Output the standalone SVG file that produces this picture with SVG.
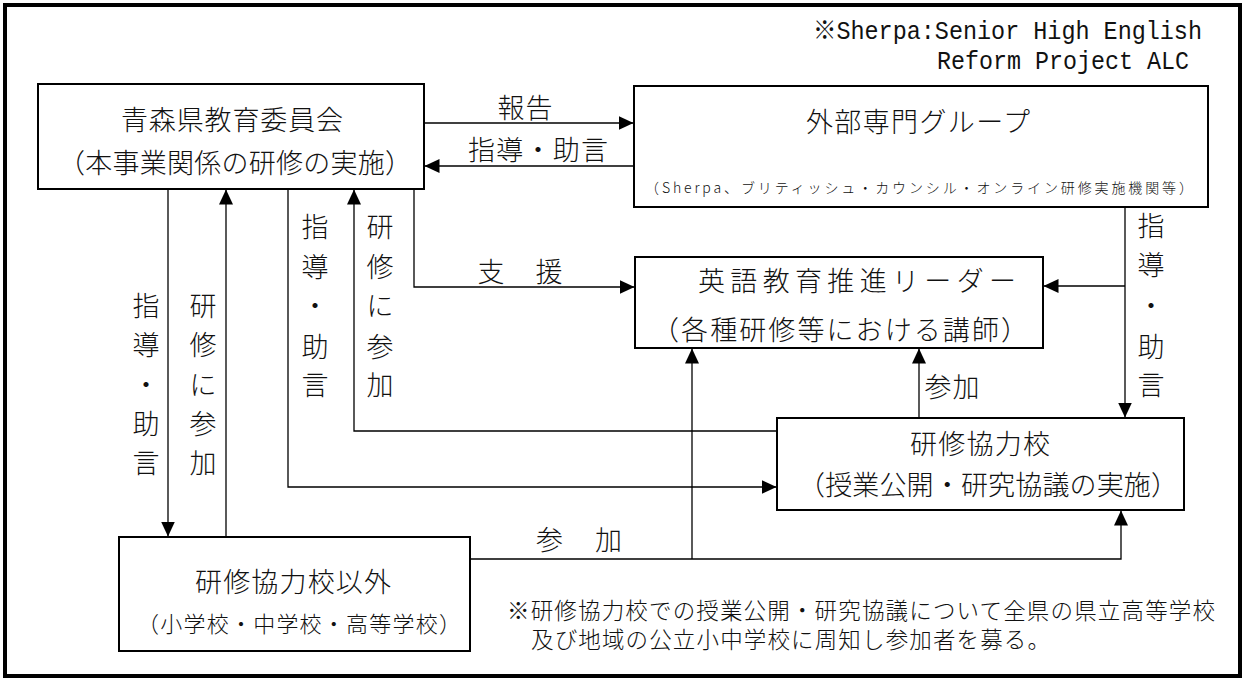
<svg xmlns="http://www.w3.org/2000/svg" width="1244" height="679" viewBox="0 0 1244 679">
<defs>
<marker id="ah" viewBox="0 0 15 14" refX="14.5" refY="7" markerWidth="15" markerHeight="14" orient="auto" markerUnits="userSpaceOnUse"><path d="M0,0 L15,7 L0,14 z" fill="#000"/></marker>
<style>
.frame{fill:#fff;stroke:#000;stroke-width:4}
.box{fill:#fff;stroke:#000;stroke-width:2}
.ln{fill:none;stroke:#000;stroke-width:1.3}
.arr{marker-end:url(#ah)}
text{font-family:"Noto Sans CJK JP",sans-serif;font-weight:300;fill:#111;dominant-baseline:central;text-anchor:middle}
.t{font-size:27px}
.s{font-size:22px}
.xs{font-size:14px}
.n{font-size:22.5px;text-anchor:start}
.m{font-family:"Liberation Mono","Noto Sans CJK JP",monospace;font-size:25px;text-anchor:start}
</style>
</defs>
<rect class="frame" x="5" y="5" width="1235" height="671"/>
<text class="m" x="813" y="32" textLength="389" lengthAdjust="spacingAndGlyphs">※Sherpa:Senior High English</text>
<text class="m" x="937" y="62" textLength="252" lengthAdjust="spacingAndGlyphs">Reform Project ALC</text>

<g id="connectors">
<path class="ln arr" d="M424,123 H633"/>
<path class="ln arr" d="M634,166 H425"/>
<path class="ln arr" d="M168,189 V536"/>
<path class="ln arr" d="M226,537 V190"/>
<path class="ln arr" d="M288,189 V487 H776"/>
<path class="ln arr" d="M777,431 H354 V190"/>
<path class="ln arr" d="M414,189 V287 H634"/>
<path class="ln arr" d="M1125,207 V417"/>
<path class="ln arr" d="M1125,286 H1044"/>
<path class="ln arr" d="M919,418 V349"/>
<path class="ln arr" d="M470,559 H1121 V511"/>
<path class="ln arr" d="M692,559 V349"/>
<text class="t" x="525" y="106" textLength="55">報告</text>
<text class="t" x="538" y="148" textLength="140">指導・助言</text>
<text class="t" x="520" y="270" textLength="85">支　援</text>
<text class="t" x="952" y="385" textLength="55">参加</text>
<text class="t" x="579" y="538" textLength="86">参　加</text>
<text class="t"><tspan x="146" y="304">指</tspan><tspan x="146" y="343">導</tspan><tspan x="146" y="383">・</tspan><tspan x="146" y="422">助</tspan><tspan x="146" y="461">言</tspan></text>
<text class="t"><tspan x="203" y="304">研</tspan><tspan x="203" y="343">修</tspan><tspan x="203" y="383">に</tspan><tspan x="203" y="422">参</tspan><tspan x="203" y="461">加</tspan></text>
<text class="t"><tspan x="315" y="225">指</tspan><tspan x="315" y="265">導</tspan><tspan x="315" y="304">・</tspan><tspan x="315" y="345">助</tspan><tspan x="315" y="383">言</tspan></text>
<text class="t"><tspan x="380" y="225">研</tspan><tspan x="380" y="265">修</tspan><tspan x="380" y="304">に</tspan><tspan x="380" y="345">参</tspan><tspan x="380" y="383">加</tspan></text>
<text class="t"><tspan x="1151" y="224">指</tspan><tspan x="1151" y="263">導</tspan><tspan x="1151" y="304">・</tspan><tspan x="1151" y="345">助</tspan><tspan x="1151" y="383">言</tspan></text>
</g>

<g id="node-board">
<rect class="box" x="38" y="84" width="386" height="105"/>
<text class="t" x="232" y="118" textLength="222">青森県教育委員会</text>
<text class="t" x="235" y="161" textLength="354">（本事業関係の研修の実施）</text>
</g>
<g id="node-external">
<rect class="box" x="634" y="86" width="574" height="121"/>
<text class="t" x="918" y="120" textLength="224">外部専門グループ</text>
<text class="xs" x="919" y="187" textLength="548">（Sherpa、ブリティッシュ・カウンシル・オンライン研修実施機関等）</text>
</g>
<g id="node-leader">
<rect class="box" x="635" y="257" width="408" height="91"/>
<text class="t" x="857" y="279" textLength="318">英語教育推進リーダー</text>
<text class="t" x="840" y="328" textLength="376">（各種研修等における講師）</text>
</g>
<g id="node-coop">
<rect class="box" x="777" y="418" width="407" height="92"/>
<text class="t" x="980" y="442" textLength="140">研修協力校</text>
<text class="t" x="988" y="483" textLength="380">（授業公開・研究協議の実施）</text>
</g>
<g id="node-other">
<rect class="box" x="119" y="537" width="351" height="114"/>
<text class="t" x="293" y="580" textLength="196">研修協力校以外</text>
<text class="s" x="299" y="622" textLength="324">（小学校・中学校・高等学校）</text>
</g>
<text class="n" x="507" y="609" textLength="708">※研修協力校での授業公開・研究協議について全県の県立高等学校</text>
<text class="n" x="531" y="638" textLength="519">及び地域の公立小中学校に周知し参加者を募る。</text>
</svg>
